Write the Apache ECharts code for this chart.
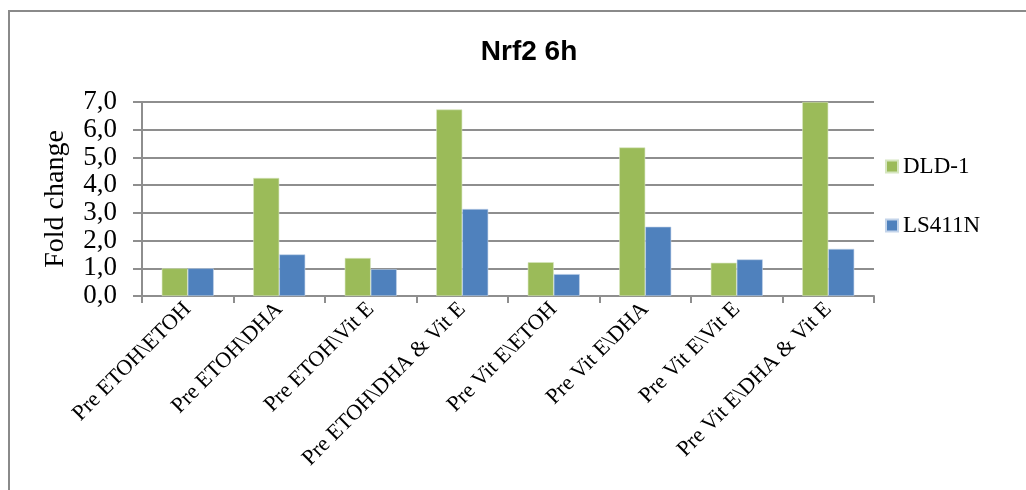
<!DOCTYPE html>
<html>
<head>
<meta charset="utf-8">
<script src="https://cdn.jsdelivr.net/npm/echarts@6/dist/echarts.min.js"></script>
<style>
  html, body { margin: 0; padding: 0; background: #ffffff; }
  #chart { width: 1026px; height: 490px; }
</style>
</head>
<body>
<div id="chart"></div>
<script>
// Treatment groups on the category axis
const categories = [
  'Pre ETOH\\ETOH',
  'Pre ETOH\\DHA',
  'Pre ETOH\\Vit E',
  'Pre ETOH\\DHA & Vit E',
  'Pre Vit E\\ETOH',
  'Pre Vit E\\DHA',
  'Pre Vit E\\Vit E',
  'Pre Vit E\\DHA & Vit E'
];

// Nrf2 fold change per cell line
const dld1 = [1.0, 4.26, 1.37, 6.73, 1.22, 5.36, 1.2, 7.0];
const ls411n = [1.0, 1.5, 0.97, 3.14, 0.79, 2.5, 1.32, 1.7];

const seriesNames = ['DLD-1', 'LS411N'];
const titleText = 'Nrf2 6h';
const yAxisName = 'Fold change';

const serif = '"Liberation Serif", "Times New Roman", serif';
const gridColor = '#8e8e8e';

const chart = echarts.init(document.getElementById('chart'), null, { renderer: 'canvas' });

chart.setOption({
  backgroundColor: '#ffffff',
  animation: false,
  title: {
    text: titleText,
    left: 524,
    top: 33,
    textAlign: 'center',
    textStyle: {
      fontFamily: '"Liberation Sans", Arial, sans-serif',
      fontWeight: 'bold',
      fontSize: 28,
      color: '#000000'
    }
  },
  graphic: [{
    type: 'rect',
    shape: { x: 9, y: 11, width: 1100, height: 600 },
    style: { fill: 'none', stroke: '#8a8a8a', lineWidth: 2 },
    silent: true
  }],
  legend: {
    orient: 'vertical',
    left: 880,
    top: 150,
    itemGap: 36,
    itemWidth: 12,
    itemHeight: 12,
    icon: 'rect',
    textStyle: { fontFamily: serif, fontSize: 23, color: '#000000' },
    data: seriesNames
  },
  grid: { left: 142, right: 152, top: 102, bottom: 194 },
  xAxis: {
    type: 'category',
    data: categories,
    axisLine: { show: true, lineStyle: { color: gridColor, width: 2 } },
    axisTick: { show: true, length: 7, lineStyle: { color: gridColor, width: 2 } },
    axisLabel: {
      rotate: 45,
      interval: 0,
      margin: 10,
      fontFamily: serif,
      fontSize: 22,
      color: '#000000'
    }
  },
  yAxis: {
    type: 'value',
    min: 0,
    max: 7,
    interval: 1,
    name: yAxisName,
    nameLocation: 'middle',
    nameGap: 72,
    nameRotate: 90,
    nameTextStyle: { fontFamily: serif, fontSize: 28, color: '#000000' },
    axisLine: { show: true, lineStyle: { color: gridColor, width: 2 } },
    axisTick: { show: true, length: 9, lineStyle: { color: gridColor, width: 2 } },
    axisLabel: {
      margin: 25,
      fontFamily: serif,
      fontSize: 27,
      color: '#000000',
      formatter: v => v.toFixed(1).replace('.', ',')
    },
    splitLine: { show: true, lineStyle: { color: gridColor, width: 2 } }
  },
  series: [
    {
      name: seriesNames[0],
      type: 'bar',
      data: dld1,
      barWidth: 26,
      barGap: '0%',
      itemStyle: { color: '#9bbb59', borderColor: '#d6e6c0', borderWidth: 0.6 }
    },
    {
      name: seriesNames[1],
      type: 'bar',
      data: ls411n,
      barWidth: 26,
      barGap: '0%',
      itemStyle: { color: '#4f81bd', borderColor: '#c3d4ea', borderWidth: 0.6 }
    }
  ]
});
</script>
</body>
</html>
